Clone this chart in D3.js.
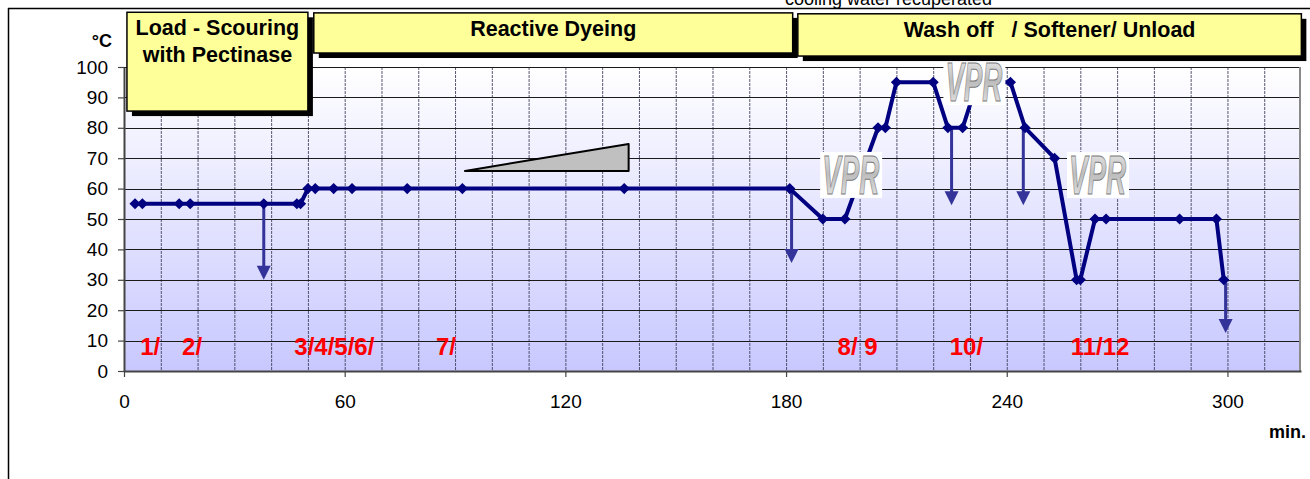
<!DOCTYPE html>
<html>
<head>
<meta charset="utf-8">
<script src="https://cdn.jsdelivr.net/npm/d3@7"></script>
<style>
  html, body { margin: 0; padding: 0; background: #fff; }
  svg { display: block; font-family: Arial, "Liberation Sans", sans-serif; }
</style>
</head>
<body>
<svg id="chart" width="1310" height="479"></svg>
<script>
// temperature profile (minutes, °C)
const times = [3, 5, 15, 18, 38, 47, 48, 50, 52, 57, 62, 77, 92, 136, 181, 190, 196, 205, 207, 210, 220, 224, 228, 232, 241, 245, 253, 259, 260, 264, 267, 287, 297, 299];
const temps = [55, 55, 55, 55, 55, 55, 55, 60, 60, 60, 60, 60, 60, 60, 60, 50, 50, 80, 80, 95, 95, 80, 80, 95, 95, 80, 70, 30, 30, 50, 50, 50, 50, 30];

// drain arrows
const arrowTimes = [38, 181.5, 225, 244.5, 299.5];
const arrowFrom = [55, 60, 80, 80, 30];
const arrowTo = [30, 35.5, 54.5, 54.5, 12.5];

// step numbers
const stepLabels = ["1/", "2/", "3/4/5/6/", "7/", "8/ 9", "10/", "11/12"];
const stepTimes = [4.4, 15.8, 46.3, 84.8, 194, 224.5, 257.4];

// VPR stamps (centre)
const vprTimes = [197.7, 231.2, 264.8];
const vprTemps = [64.5, 95, 64.5];

// phase boxes
const phaseLabels = [["Load - Scouring", "with Pectinase"], ["Reactive Dyeing"], ["Wash off   / Softener/ Unload"]];
const phaseStart = [0.8, 51.6, 183.2];
const phaseEnd = [50, 181.8, 320.1];
const phaseTop = [118, 117.8, 117.5];
const phaseBottom = [85.5, 104.6, 103.6];

// dosing wedge
const wedge = [[92.7, 65.8], [137.2, 74.7], [137.2, 65.8]];

const xTicks = [0, 60, 120, 180, 240, 300];
const yTicks = d3.range(0, 101, 10);

const svg = d3.select("#chart");

const x = d3.scaleLinear().domain([0, 320]).range([124, 1301]);
const y = d3.scaleLinear().domain([0, 100]).range([371, 67]);

// background gradient
const defs = svg.append("defs");
const grad = defs.append("linearGradient").attr("id", "bg").attr("x1", 0).attr("y1", 0).attr("x2", 0).attr("y2", 1);
grad.append("stop").attr("offset", "0%").attr("stop-color", "#ffffff");
grad.append("stop").attr("offset", "100%").attr("stop-color", "#c8c8ff");

const vgrad = defs.append("linearGradient").attr("id", "vpr").attr("x1", 0).attr("y1", 0).attr("x2", 0).attr("y2", 1);
vgrad.append("stop").attr("offset", "0%").attr("stop-color", "#f4f4f4");
vgrad.append("stop").attr("offset", "50%").attr("stop-color", "#bdbdbd");
vgrad.append("stop").attr("offset", "100%").attr("stop-color", "#eeeeee");

// outer frame
svg.append("line").attr("x1", 8).attr("x2", 1310).attr("y1", 8.5).attr("y2", 8.5).attr("stroke", "#000").attr("stroke-width", 1.5);
svg.append("line").attr("x1", 8.5).attr("x2", 8.5).attr("y1", 8).attr("y2", 479).attr("stroke", "#000").attr("stroke-width", 1.5);

svg.append("text").attr("x", 785).attr("y", 5).attr("font-size", 18).attr("fill", "#000")
  .text("cooling water recuperated");

svg.append("rect")
  .attr("x", x(0)).attr("y", y(100))
  .attr("width", x(320) - x(0)).attr("height", y(0) - y(100))
  .attr("fill", "url(#bg)");

// grid
svg.append("g").selectAll("line")
  .data(d3.range(10, 320, 10))
  .join("line")
  .attr("x1", (d) => x(d) + 0.5).attr("x2", (d) => x(d) + 0.5)
  .attr("y1", y(100)).attr("y2", y(0))
  .attr("stroke", "#3c3c58").attr("stroke-width", 1).attr("stroke-dasharray", "3,1").attr("opacity", 0.85);

svg.append("g").selectAll("line")
  .data(d3.range(10, 101, 10))
  .join("line")
  .attr("x1", x(0)).attr("x2", x(320))
  .attr("y1", (d) => Math.round(y(d)) + 0.5).attr("y2", (d) => Math.round(y(d)) + 0.5)
  .attr("stroke", "#1a1a1a").attr("stroke-width", 1.2);

// plot right border
svg.append("line").attr("x1", x(320) - 1).attr("x2", x(320) - 1).attr("y1", y(100)).attr("y2", y(0))
  .attr("stroke", "#8a8a8a").attr("stroke-width", 2);

// axes
const xAxis = d3.axisBottom(x).tickValues(xTicks).tickSize(6).tickPadding(18).tickSizeOuter(0);
const yAxis = d3.axisLeft(y).tickValues(yTicks).tickSize(6).tickPadding(10).tickSizeOuter(0);

const gx = svg.append("g").attr("transform", `translate(0,${y(0)})`).call(xAxis);
const gy = svg.append("g").attr("transform", `translate(${x(0)},0)`).call(yAxis);
[gx, gy].forEach((g) => {
  g.select(".domain").attr("stroke", "#444").attr("stroke-width", 2);
  g.selectAll(".tick line").attr("stroke", "#444").attr("stroke-width", 1.2);
  g.selectAll(".tick text").attr("font-size", 19).attr("fill", "#000").attr("font-family", "Arial, 'Liberation Sans', sans-serif");
});

svg.append("text").attr("x", 112).attr("y", 47).attr("text-anchor", "end")
  .attr("font-size", 18).attr("font-weight", "bold").text("°C");
svg.append("text").attr("x", 1306).attr("y", 438).attr("text-anchor", "end")
  .attr("font-size", 18).attr("font-weight", "bold").text("min.");

// wedge
svg.append("path")
  .attr("d", d3.line().x((d) => x(d[0])).y((d) => y(d[1]))(wedge) + "Z")
  .attr("fill", "#c0c0c0").attr("stroke", "#000").attr("stroke-width", 2).attr("stroke-linejoin", "round");

// step labels
svg.append("g").selectAll("text")
  .data(stepLabels)
  .join("text")
  .attr("x", (d, i) => x(stepTimes[i]))
  .attr("y", y(8))
  .attr("dy", "0.36em")
  .attr("font-size", 24).attr("font-weight", "bold").attr("fill", "#ff0000")
  .attr("xml:space", "preserve").style("white-space", "pre")
  .text((d) => d);

// arrows
const arrowColor = "#333399";
const ag = svg.append("g");
arrowTimes.forEach((t, i) => {
  const ax = x(t), y0 = y(arrowFrom[i]), y1 = y(arrowTo[i]);
  ag.append("line").attr("x1", ax).attr("x2", ax).attr("y1", y0).attr("y2", y1 - 10)
    .attr("stroke", arrowColor).attr("stroke-width", 3);
  ag.append("path")
    .attr("d", `M${ax - 7},${y1 - 14}L${ax + 7},${y1 - 14}L${ax},${y1}Z`)
    .attr("fill", arrowColor);
});

// profile line
const pts = times.map((t, i) => [t, temps[i]]);
svg.append("path")
  .attr("d", d3.line().x((d) => x(d[0])).y((d) => y(d[1]))(pts))
  .attr("fill", "none").attr("stroke", "#000080").attr("stroke-width", 4).attr("stroke-linejoin", "round");

svg.append("g").selectAll("path")
  .data(pts)
  .join("path")
  .attr("d", d3.symbol(d3.symbolSquare, 62)())
  .attr("transform", (d) => `translate(${x(d[0])},${y(d[1])}) rotate(45)`)
  .attr("fill", "#000080");

// VPR stamps
const vg = svg.append("g");
vprTimes.forEach((t, i) => {
  const cx = x(t), cy = y(vprTemps[i]);
  vg.append("rect").attr("x", cx - 31).attr("y", cy - 23).attr("width", 62).attr("height", 46).attr("fill", "#fff");
  vg.append("text")
    .attr("x", cx - 29).attr("y", cy + 19)
    .attr("font-size", 56).attr("font-weight", "bold").attr("font-style", "italic")
    .attr("textLength", 57).attr("lengthAdjust", "spacingAndGlyphs")
    .attr("fill", "url(#vpr)").attr("stroke", "#7a7a7a").attr("stroke-width", 1)
    .text("VPR");
});

// phase boxes
const pg = svg.append("g");
phaseLabels.forEach((lines, i) => {
  const bx = x(phaseStart[i]), bw = x(phaseEnd[i]) - x(phaseStart[i]);
  const by = y(phaseTop[i]), bh = y(phaseBottom[i]) - y(phaseTop[i]);
  pg.append("rect").attr("x", bx + 5).attr("y", by + 5).attr("width", bw).attr("height", bh).attr("fill", "#000");
  pg.append("rect").attr("x", bx).attr("y", by).attr("width", bw).attr("height", bh)
    .attr("fill", "#ffff99").attr("stroke", "#000").attr("stroke-width", 1.5);
  lines.forEach((ln, j) => {
    pg.append("text")
      .attr("x", bx + bw / 2).attr("y", by + 23 + j * 27)
      .attr("text-anchor", "middle")
      .attr("font-size", 21.5).attr("font-weight", "bold").attr("fill", "#000")
      .attr("xml:space", "preserve").style("white-space", "pre")
      .text(ln);
  });
});
</script>
</body>
</html>
